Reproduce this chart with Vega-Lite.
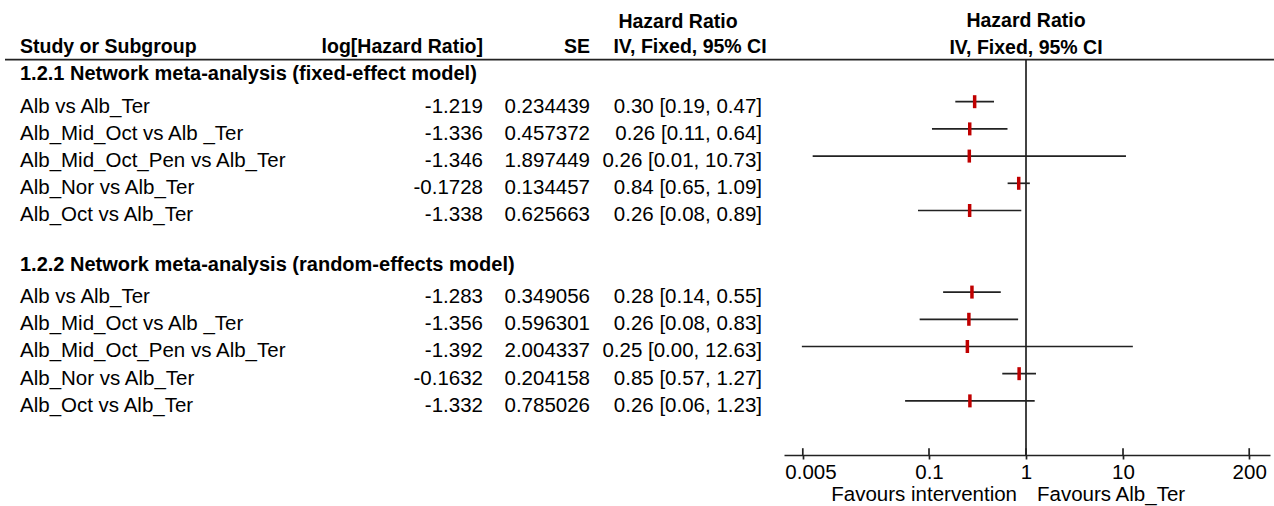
{
  "$schema": "https://vega.github.io/schema/vega-lite/v6.json",
  "padding": 0,
  "autosize": {"type": "pad"},
  "background": "white",
  "spacing": 0,
  "bounds": "flush",
  "config": {"view": {"stroke": null}, "font": "Liberation Sans"},
  "datasets": {
    "studies": [
      {"group": "fixed", "row": 2, "study": "Alb vs Alb_Ter", "loghr": "-1.219", "se": "0.234439", "ci": "0.30 [0.19, 0.47]", "hr": 0.2955, "lo": 0.1867, "hi": 0.4679},
      {"group": "fixed", "row": 3, "study": "Alb_Mid_Oct vs Alb _Ter", "loghr": "-1.336", "se": "0.457372", "ci": "0.26 [0.11, 0.64]", "hr": 0.2629, "lo": 0.1073, "hi": 0.6443},
      {"group": "fixed", "row": 4, "study": "Alb_Mid_Oct_Pen vs Alb_Ter", "loghr": "-1.346", "se": "1.897449", "ci": "0.26 [0.01, 10.73]", "hr": 0.2603, "lo": 0.00632, "hi": 10.73},
      {"group": "fixed", "row": 5, "study": "Alb_Nor vs Alb_Ter", "loghr": "-0.1728", "se": "0.134457", "ci": "0.84 [0.65, 1.09]", "hr": 0.8413, "lo": 0.6464, "hi": 1.095},
      {"group": "fixed", "row": 6, "study": "Alb_Oct vs Alb_Ter", "loghr": "-1.338", "se": "0.625663", "ci": "0.26 [0.08, 0.89]", "hr": 0.2624, "lo": 0.077, "hi": 0.8943},
      {"group": "random", "row": 9, "study": "Alb vs Alb_Ter", "loghr": "-1.283", "se": "0.349056", "ci": "0.28 [0.14, 0.55]", "hr": 0.2772, "lo": 0.1398, "hi": 0.5494},
      {"group": "random", "row": 10, "study": "Alb_Mid_Oct vs Alb _Ter", "loghr": "-1.356", "se": "0.596301", "ci": "0.26 [0.08, 0.83]", "hr": 0.2577, "lo": 0.0801, "hi": 0.8292},
      {"group": "random", "row": 11, "study": "Alb_Mid_Oct_Pen vs Alb_Ter", "loghr": "-1.392", "se": "2.004337", "ci": "0.25 [0.00, 12.63]", "hr": 0.2486, "lo": 0.00489, "hi": 12.63},
      {"group": "random", "row": 12, "study": "Alb_Nor vs Alb_Ter", "loghr": "-0.1632", "se": "0.204158", "ci": "0.85 [0.57, 1.27]", "hr": 0.8494, "lo": 0.5693, "hi": 1.2674},
      {"group": "random", "row": 13, "study": "Alb_Oct vs Alb_Ter", "loghr": "-1.332", "se": "0.785026", "ci": "0.26 [0.06, 1.23]", "hr": 0.264, "lo": 0.0567, "hi": 1.2295}
    ],
    "groups": [
      {"row": 1, "label": "1.2.1 Network meta-analysis (fixed-effect model)"},
      {"row": 8, "label": "1.2.2 Network meta-analysis (random-effects model)"}
    ],
    "heads": [
      {"row": 0, "col": "study", "label": "Study or Subgroup"},
      {"row": 0, "col": "loghr", "label": "log[Hazard Ratio]"},
      {"row": 0, "col": "se", "label": "SE"},
      {"row": -1, "col": "hr1", "label": "Hazard Ratio"},
      {"row": 0, "col": "hr2", "label": "IV, Fixed, 95% CI"}
    ],
    "forestHeads": [
      {"row": -1, "label": "Hazard Ratio"},
      {"row": 0, "label": "IV, Fixed, 95% CI"}
    ],
    "favours": [
      {"side": "left", "label": "Favours intervention"},
      {"side": "right", "label": "Favours Alb_Ter"}
    ],
    "axisTicks": [{"v": 0.005}, {"v": 0.1}, {"v": 1}, {"v": 10}, {"v": 200}],
    "nullLine": [{"ref": 1}]
  },
  "hconcat": [
    {
      "width": 784,
      "height": 455,
      "layer": [
        {
          "data": {"name": "heads"},
          "transform": [{"filter": "datum.col == 'study'"}],
          "mark": {"type": "text", "align": "left", "baseline": "alphabetic", "fontWeight": "bold", "fontSize": 19.5, "dy": 6, "color": "#000"},
          "encoding": {
            "x": {"datum": 20, "type": "quantitative", "scale": {"domain": [0, 784], "nice": false, "zero": false}, "axis": null},
            "y": {"field": "row", "type": "quantitative", "scale": {"domain": [-1.739, 14.99], "reverse": true, "nice": false, "zero": false}, "axis": null},
            "text": {"field": "label"}
          }
        },
        {
          "data": {"name": "heads"},
          "transform": [{"filter": "datum.col == 'loghr'"}],
          "mark": {"type": "text", "align": "right", "baseline": "alphabetic", "fontWeight": "bold", "fontSize": 19.5, "dy": 6, "color": "#000"},
          "encoding": {
            "x": {"datum": 483, "type": "quantitative"},
            "y": {"field": "row", "type": "quantitative"},
            "text": {"field": "label"}
          }
        },
        {
          "data": {"name": "heads"},
          "transform": [{"filter": "datum.col == 'se'"}],
          "mark": {"type": "text", "align": "right", "baseline": "alphabetic", "fontWeight": "bold", "fontSize": 19.5, "dy": 6, "color": "#000"},
          "encoding": {
            "x": {"datum": 590, "type": "quantitative"},
            "y": {"field": "row", "type": "quantitative"},
            "text": {"field": "label"}
          }
        },
        {
          "data": {"name": "heads"},
          "transform": [{"filter": "datum.col == 'hr1'"}],
          "mark": {"type": "text", "align": "center", "baseline": "alphabetic", "fontWeight": "bold", "fontSize": 19.5, "dy": 8, "color": "#000"},
          "encoding": {
            "x": {"datum": 678, "type": "quantitative"},
            "y": {"field": "row", "type": "quantitative"},
            "text": {"field": "label"}
          }
        },
        {
          "data": {"name": "heads"},
          "transform": [{"filter": "datum.col == 'hr2'"}],
          "mark": {"type": "text", "align": "center", "baseline": "alphabetic", "fontWeight": "bold", "fontSize": 19.5, "dy": 6, "color": "#000"},
          "encoding": {
            "x": {"datum": 690, "type": "quantitative"},
            "y": {"field": "row", "type": "quantitative"},
            "text": {"field": "label"}
          }
        },
        {
          "data": {"name": "groups"},
          "mark": {"type": "text", "align": "left", "baseline": "alphabetic", "fontWeight": "bold", "fontSize": 20, "dy": 6, "color": "#000"},
          "encoding": {
            "x": {"datum": 20, "type": "quantitative"},
            "y": {"field": "row", "type": "quantitative"},
            "text": {"field": "label"}
          }
        },
        {
          "data": {"name": "studies"},
          "mark": {"type": "text", "align": "left", "baseline": "alphabetic", "fontSize": 20.5, "dy": 11, "color": "#000"},
          "encoding": {
            "x": {"datum": 20, "type": "quantitative"},
            "y": {"field": "row", "type": "quantitative"},
            "text": {"field": "study"}
          }
        },
        {
          "data": {"name": "studies"},
          "mark": {"type": "text", "align": "right", "baseline": "alphabetic", "fontSize": 20.5, "dy": 11, "color": "#000"},
          "encoding": {
            "x": {"datum": 483, "type": "quantitative"},
            "y": {"field": "row", "type": "quantitative"},
            "text": {"field": "loghr"}
          }
        },
        {
          "data": {"name": "studies"},
          "mark": {"type": "text", "align": "right", "baseline": "alphabetic", "fontSize": 20.5, "dy": 11, "color": "#000"},
          "encoding": {
            "x": {"datum": 590, "type": "quantitative"},
            "y": {"field": "row", "type": "quantitative"},
            "text": {"field": "se"}
          }
        },
        {
          "data": {"name": "studies"},
          "mark": {"type": "text", "align": "right", "baseline": "alphabetic", "fontSize": 20.5, "dy": 11, "color": "#000"},
          "encoding": {
            "x": {"datum": 762, "type": "quantitative"},
            "y": {"field": "row", "type": "quantitative"},
            "text": {"field": "ci"}
          }
        },
        {
          "data": {"values": [{}]},
          "mark": {"type": "rule", "color": "#222", "strokeWidth": 1.7},
          "encoding": {
            "x": {"datum": 5, "type": "quantitative"},
            "x2": {"datum": 784},
            "y": {"datum": 0.45, "type": "quantitative"}
          }
        }
      ]
    },
    {
      "width": 486,
      "height": 455,
      "layer": [
        {
          "data": {"name": "studies"},
          "mark": {"type": "rule", "color": "#222", "strokeWidth": 1.7},
          "encoding": {
            "x": {
              "field": "lo", "type": "quantitative", "title": null,
              "scale": {"type": "log", "domain": [0.0032, 327.6], "nice": false},
              "axis": {
                "values": [0.005, 0.1, 1, 10, 200], "format": "~g", "grid": false, "title": null,
                "domainColor": "#222", "domainWidth": 1.7, "tickColor": "#222", "tickWidth": 1.7, "tickSize": 4,
                "labelFontSize": 20.5, "labelFont": "Liberation Sans", "labelColor": "#000", "labelPadding": 3,
                "labelFlush": 19, "labelFlushOffset": 18, "labelOverlap": false
              }
            },
            "x2": {"field": "hi"},
            "y": {"field": "row", "type": "quantitative", "title": null, "scale": {"domain": [-1.739, 14.99], "reverse": true, "nice": false, "zero": false}, "axis": null}
          }
        },
        {
          "data": {"name": "studies"},
          "mark": {"type": "tick", "orient": "vertical", "color": "#c00000", "size": 13, "thickness": 3.5, "opacity": 1},
          "encoding": {
            "x": {"field": "hr", "type": "quantitative", "title": null},
            "y": {"field": "row", "type": "quantitative", "title": null}
          }
        },
        {
          "data": {"name": "nullLine"},
          "mark": {"type": "rule", "color": "#222", "strokeWidth": 1.7},
          "encoding": {
            "x": {"field": "ref", "type": "quantitative", "title": null},
            "y": {"datum": 0.45, "type": "quantitative"},
            "y2": {"datum": 15}
          }
        },
        {
          "data": {"values": [{}]},
          "mark": {"type": "rule", "color": "#222", "strokeWidth": 1.7},
          "encoding": {
            "x": {"datum": 0.0032, "type": "quantitative"},
            "x2": {"datum": 360},
            "y": {"datum": 0.45, "type": "quantitative"}
          }
        },
        {
          "data": {"name": "axisTicks"},
          "mark": {"type": "rule", "color": "#222", "strokeWidth": 1.7},
          "encoding": {
            "x": {"field": "v", "type": "quantitative", "title": null},
            "y": {"datum": 14.74, "type": "quantitative"},
            "y2": {"datum": 15}
          }
        },
        {
          "data": {"name": "forestHeads"},
          "mark": {"type": "text", "align": "center", "baseline": "alphabetic", "fontWeight": "bold", "fontSize": 19.5, "dy": 7, "color": "#000"},
          "encoding": {
            "x": {"datum": 1, "type": "quantitative"},
            "y": {"field": "row", "type": "quantitative"},
            "text": {"field": "label"}
          }
        },
        {
          "data": {"name": "favours"},
          "transform": [{"filter": "datum.side == 'left'"}],
          "mark": {"type": "text", "align": "right", "baseline": "middle", "fontSize": 20.5, "dx": -9, "color": "#000"},
          "encoding": {
            "x": {"datum": 1, "type": "quantitative"},
            "y": {"datum": 16.46, "type": "quantitative"},
            "text": {"field": "label"}
          }
        },
        {
          "data": {"name": "favours"},
          "transform": [{"filter": "datum.side == 'right'"}],
          "mark": {"type": "text", "align": "left", "baseline": "middle", "fontSize": 20.5, "dx": 11, "color": "#000"},
          "encoding": {
            "x": {"datum": 1, "type": "quantitative"},
            "y": {"datum": 16.46, "type": "quantitative"},
            "text": {"field": "label"}
          }
        }
      ]
    }
  ]
}
